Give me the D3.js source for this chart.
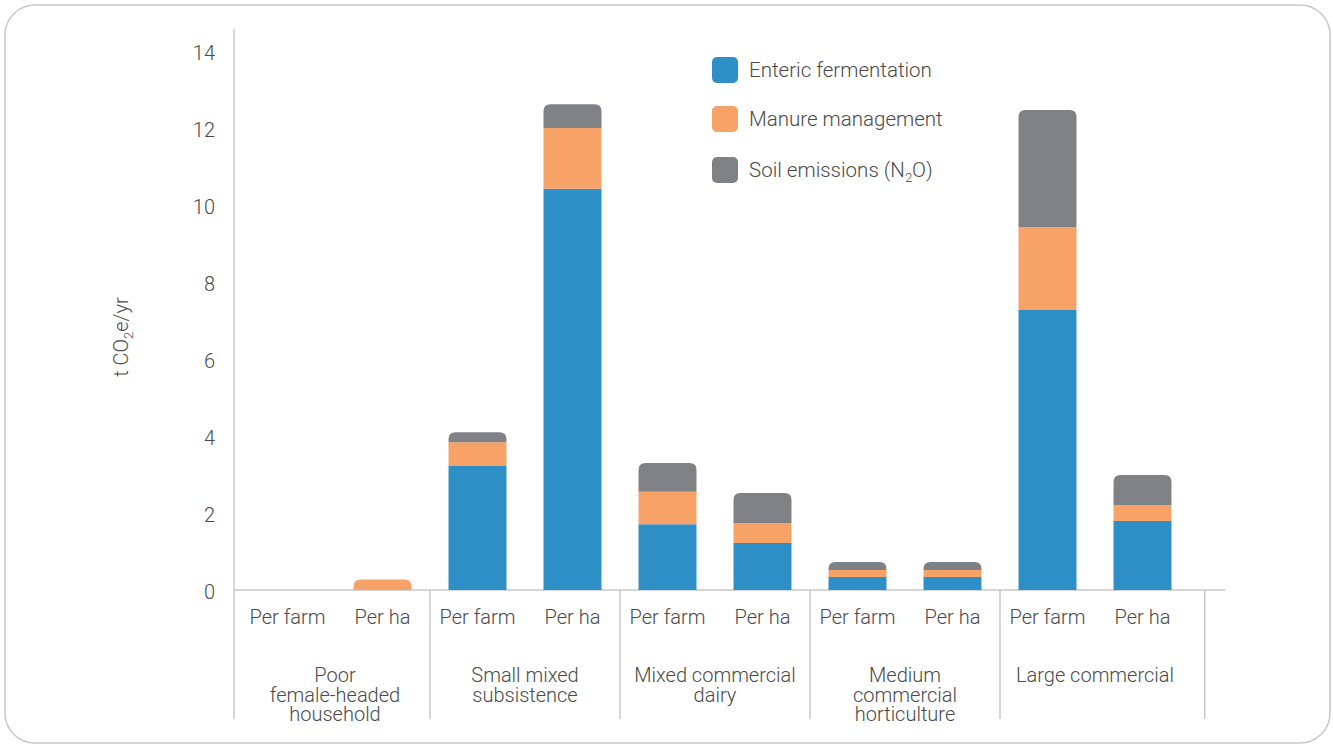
<!DOCTYPE html>
<html>
<head>
<meta charset="utf-8">
<script src="https://cdn.jsdelivr.net/npm/d3@7"></script>
<style>
  html, body { margin: 0; padding: 0; background: #ffffff; }
  svg { display: block; font-family: Roboto, "Open Sans", sans-serif; font-weight: 300; }
</style>
</head>
<body>
<svg id="chart" width="1333" height="746"></svg>
<script>
// Farm types and the two ways each one is measured
const groups = ["Poor\nfemale-headed\nhousehold", "Small mixed\nsubsistence", "Mixed commercial\ndairy", "Medium\ncommercial\nhorticulture", "Large commercial"];
const measures = ["Per farm", "Per ha"];

// Emission sources (stack order, bottom to top)
const sources = ["Enteric fermentation", "Manure management", "Soil emissions"];

// t CO2e/yr per bar, in order: group 1 per farm, group 1 per ha, group 2 per farm, ...
const enteric = [0, 0, 3.22, 10.42, 1.71, 1.22, 0.34, 0.34, 7.27, 1.79];
const manure  = [0, 0.27, 0.62, 1.58, 0.84, 0.52, 0.18, 0.18, 2.16, 0.42];
const soil    = [0, 0, 0.26, 0.62, 0.75, 0.78, 0.21, 0.21, 3.04, 0.78];

const yTicks = [0, 2, 4, 6, 8, 10, 12, 14];

const colors = ["#2e8fc7", "#f7a266", "#808185"];

const svg = d3.select("#chart");
const W = 1333, H = 746;
const textColor = "#4a4a4a";

// Card frame
svg.append("rect")
  .attr("x", 5).attr("y", 5).attr("width", W - 8).attr("height", H - 8)
  .attr("rx", 30).attr("ry", 30)
  .attr("fill", "#fff").attr("stroke", "#c8c8c8").attr("stroke-width", 1.5);

const plotLeft = 234, plotRight = 1225, baseY = 590;

// One band per bar
const bars = [];
groups.forEach((g, gi) => measures.forEach((m, mi) => bars.push({ key: gi + "|" + mi, group: gi, measure: m })));
const rows = bars.map((b, i) => ({ ...b, [sources[0]]: enteric[i], [sources[1]]: manure[i], [sources[2]]: soil[i] }));

const x = d3.scaleBand()
  .domain(bars.map(b => b.key))
  .range([240, 1190])
  .paddingInner(0.39)
  .paddingOuter(0.195);

const y = d3.scaleLinear().domain([0, 14]).range([baseY, 51]);

// Y axis
const yAxis = d3.axisLeft(y).tickValues(yTicks).tickSize(0).tickPadding(19).tickFormat(d3.format("d"));
const ya = svg.append("g").attr("transform", `translate(${plotLeft},0)`).call(yAxis);
ya.select(".domain").remove();
ya.selectAll("text").attr("font-size", 20).attr("fill", textColor)
  .attr("font-family", "Roboto, sans-serif").attr("font-weight", 300).attr("dy", "0.4em");

// Axis lines
const lineColor = "#c8c8c8";
svg.append("line").attr("x1", plotLeft).attr("x2", plotLeft).attr("y1", 29).attr("y2", 719)
  .attr("stroke", lineColor).attr("stroke-width", 1.5);
svg.append("line").attr("x1", plotLeft).attr("x2", plotRight).attr("y1", baseY).attr("y2", baseY)
  .attr("stroke", lineColor).attr("stroke-width", 1.5);

// Group separators between the bar pairs, plus the closing one on the right
const step = x.step();
const sepX = [];
for (let gi = 1; gi < groups.length; gi++) {
  const left = x(gi - 1 + "|1") + x.bandwidth();
  const right = x(gi + "|0");
  sepX.push((left + right) / 2);
}
sepX.push(x(groups.length - 1 + "|1") + x.bandwidth() + step * 0.35);
svg.selectAll("line.sep").data(sepX).join("line").attr("class", "sep")
  .attr("x1", d => d).attr("x2", d => d).attr("y1", baseY).attr("y2", 719)
  .attr("stroke", lineColor).attr("stroke-width", 1.5);

// Stacked bars
const stack = d3.stack().keys(sources);
const series = stack(rows);
const r = 7;

function segPath(x0, w, yTop, yBot, rounded) {
  const h = yBot - yTop;
  if (h <= 0) return "";
  if (!rounded) return `M${x0},${yBot}V${yTop}H${x0 + w}V${yBot}Z`;
  const rr = Math.min(r, h, w / 2);
  return `M${x0},${yBot}V${yTop + rr}Q${x0},${yTop} ${x0 + rr},${yTop}H${x0 + w - rr}Q${x0 + w},${yTop} ${x0 + w},${yTop + rr}V${yBot}Z`;
}

// Index of the topmost non-empty segment of each bar
const topIdx = rows.map((row, i) => {
  let t = -1;
  series.forEach((s, si) => { if (s[i][1] - s[i][0] > 0) t = si; });
  return t;
});

series.forEach((s, si) => {
  svg.append("g").attr("fill", colors[si])
    .selectAll("path").data(s).join("path")
    .attr("d", (d, i) => segPath(x(rows[i].key), x.bandwidth(), y(d[1]), y(d[0]), topIdx[i] === si));
});

// Measure labels under each bar
svg.append("g").selectAll("text").data(bars).join("text")
  .attr("x", d => x(d.key) + x.bandwidth() / 2)
  .attr("y", 624)
  .attr("text-anchor", "middle")
  .attr("font-size", 20).attr("fill", textColor)
  .text(d => d.measure);

// Group labels
groups.forEach((g, gi) => {
  const cx = (x(gi + "|0") + x(gi + "|1") + x.bandwidth()) / 2;
  const t = svg.append("text").attr("text-anchor", "middle").attr("font-size", 20).attr("fill", textColor);
  g.split("\n").forEach((line, li) => {
    t.append("tspan").attr("x", cx).attr("y", 682 + li * 19.5).text(line);
  });
});

// Y axis title
const yt = svg.append("text")
  .attr("transform", "translate(128,337) rotate(-90)")
  .attr("text-anchor", "middle").attr("font-size", 20).attr("fill", textColor);
yt.append("tspan").text("t CO");
yt.append("tspan").attr("font-size", 13).attr("dy", 5).text("2");
yt.append("tspan").attr("dy", -5).text("e/yr");

// Legend
const legendLabels = [["Enteric fermentation"], ["Manure management"], ["Soil emissions (N", "2", "O)"]];
const lg = svg.append("g").attr("transform", "translate(712,57)");
legendLabels.forEach((lab, i) => {
  const yy = i === 2 ? 100 : i * 49;
  lg.append("rect").attr("x", 0).attr("y", yy).attr("width", 26).attr("height", 26)
    .attr("rx", 5).attr("fill", colors[i]);
  const t = lg.append("text").attr("x", 37).attr("y", yy + 20).attr("font-size", 20.5).attr("fill", textColor);
  t.append("tspan").text(lab[0]);
  if (lab.length > 1) {
    t.append("tspan").attr("font-size", 13).attr("dy", 5).text(lab[1]);
    t.append("tspan").attr("dy", -5).text(lab[2]);
  }
});
</script>
</body>
</html>
